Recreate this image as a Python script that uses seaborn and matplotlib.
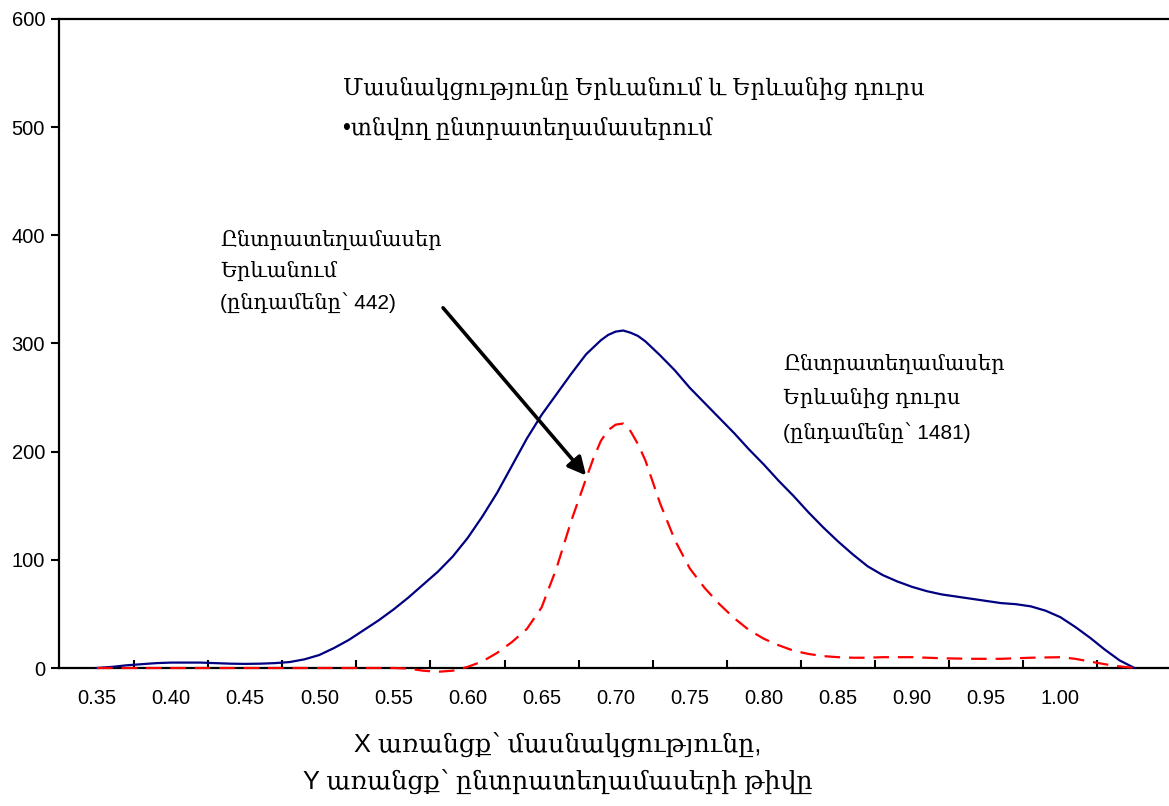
import matplotlib
matplotlib.use("Agg")
import matplotlib.pyplot as plt
import seaborn as sns
import pandas as pd

# Մասնակցություն (X) և ընտրատեղամասերի թիվ (Y)
x_erevanic_durs = [0.35, 0.36, 0.37, 0.38, 0.39, 0.40, 0.41, 0.42, 0.43, 0.44,
                   0.45, 0.46, 0.47, 0.48, 0.49, 0.50, 0.51, 0.52, 0.53, 0.54,
                   0.55, 0.56, 0.57, 0.58, 0.59, 0.60, 0.61, 0.62, 0.63, 0.64,
                   0.65, 0.66, 0.67, 0.68, 0.69, 0.695, 0.70, 0.705, 0.71, 0.715,
                   0.72, 0.73, 0.74,
                   0.75, 0.76, 0.77, 0.78, 0.79, 0.80, 0.81, 0.82, 0.83, 0.84,
                   0.85, 0.86, 0.87, 0.88, 0.89, 0.90, 0.91, 0.92, 0.93, 0.94,
                   0.95, 0.96, 0.97, 0.98, 0.99, 1.00, 1.01, 1.02, 1.03, 1.04, 1.05]
y_erevanic_durs = [0, 1, 2.5, 3.5, 4.5, 5, 5, 5, 4.5, 4,
                   3.8, 4, 4.5, 5.5, 8, 12, 18.5, 26, 35, 44,
                   54, 65, 77, 89, 103, 120, 140, 162, 187, 212,
                   234, 253, 272, 290, 303, 308, 311, 312, 310, 307,
                   302, 289, 275,
                   259, 245, 231, 217, 202, 188, 173, 159, 144, 130,
                   117, 105, 94, 86, 80, 75, 71, 68, 66, 64,
                   62, 60, 59, 57, 53, 47, 38, 28, 17, 7, 0]

x_erevanum = [0.35, 0.40, 0.45, 0.50, 0.55, 0.56, 0.57, 0.58, 0.59, 0.60,
              0.61, 0.62, 0.63, 0.64, 0.65, 0.66, 0.67, 0.68, 0.685, 0.69,
              0.695, 0.70, 0.705, 0.71, 0.715,
              0.72, 0.73, 0.74, 0.75, 0.76, 0.77, 0.78, 0.79, 0.80,
              0.81, 0.82, 0.83, 0.84, 0.85, 0.86, 0.87, 0.88, 0.90, 0.92,
              0.94, 0.96, 0.98, 1.00, 1.01, 1.02, 1.03, 1.04, 1.05]
y_erevanum = [0, 0, 0, 0, 0, -0.5, -2.5, -3.5, -2.5, 1,
              6, 14, 24, 36, 56, 92, 136, 175, 194, 210,
              220, 225, 226, 219, 207,
              192, 152, 118, 92, 74, 59, 46, 35, 27,
              21, 16, 13, 11, 10, 9.5, 9.5, 10, 10, 9,
              8.5, 8.5, 9.5, 10, 8.5, 6, 3.5, 1.5, 0]

x_labels = ["0.35", "0.40", "0.45", "0.50", "0.55", "0.60", "0.65",
            "0.70", "0.75", "0.80", "0.85", "0.90", "0.95", "1.00"]
x_tick_marks = [0.375, 0.425, 0.475, 0.525, 0.575, 0.625, 0.675,
                0.725, 0.775, 0.825, 0.875, 0.925, 0.975, 1.025]
y_ticks = [0, 100, 200, 300, 400, 500, 600]

df_durs = pd.DataFrame({"x": x_erevanic_durs, "y": y_erevanic_durs})
df_erevan = pd.DataFrame({"x": x_erevanum, "y": y_erevanum})

sns.set_theme(style="white")
plt.rcParams['font.family'] = ['Liberation Sans', 'DejaVu Serif']

W, H = 1169, 806
fig = plt.figure(figsize=(W / 100, H / 100), dpi=100)
ax = fig.add_axes([59 / W, (H - 668) / H, 1 - 59 / W, (668 - 19) / H])

sns.lineplot(data=df_durs, x="x", y="y", color="#000080", linewidth=1.6,
             ax=ax, zorder=3, clip_on=False)
sns.lineplot(data=df_erevan, x="x", y="y", color="#FF0000", linewidth=1.6,
             linestyle=(0, (7, 4)), ax=ax, zorder=3, clip_on=False)

ax.set_xlim(0.3244, 1.0733)
ax.set_ylim(0, 600)

for side in ["left", "top", "bottom"]:
    ax.spines[side].set_color("black")
    ax.spines[side].set_linewidth(1.6)
ax.spines["right"].set_visible(False)

ax.set_yticks(y_ticks)
ax.tick_params(axis="y", left=True, direction="out", length=6, width=1.5,
               labelsize=14.5, pad=4, colors="black")
ax.set_xticks([float(v) for v in x_labels], labels=x_labels)
ax.set_xticks(x_tick_marks, minor=True)
ax.tick_params(axis="x", which="major", bottom=True, length=0, pad=15,
               labelsize=14.5, colors="black")
ax.tick_params(axis="x", which="minor", bottom=True, direction="in",
               length=6, width=1.5, color="black")
ax.set_xlabel("")
ax.set_ylabel("")


def put(text, px, py, size, ha="left"):
    fig.text(px / W, 1 - py / H, text, fontsize=size, ha=ha, va="center",
             color="black")


put("Մասնակցությունը Երևանում և Երևանից դուրս", 343, 88, 16.3)
put("•տնվող ընտրատեղամասերում", 343, 128, 16.3)

put("Ընտրատեղամասեր", 220, 240, 15)
put("Երևանում", 220, 271, 15)
put("(ընդամենը՝ 442)", 220, 303, 15)

put("Ընտրատեղամասեր", 783, 364, 15)
put("Երևանից դուրս", 783, 398, 15)
put("(ընդամենը՝ 1481)", 783, 433, 15)

put("X առանցք՝ մասնակցությունը,", 558, 745, 18.3, ha="center")
put("Y առանցք՝ ընտրատեղամասերի թիվը", 558, 782, 18.3, ha="center")

ax.annotate("", xy=(0.680, 178), xytext=(0.5835, 333),
            arrowprops=dict(arrowstyle="-|>,head_length=0.9,head_width=0.45",
                            color="black", lw=2.6, shrinkA=0, shrinkB=0))

fig.savefig("out.png", dpi=100)
